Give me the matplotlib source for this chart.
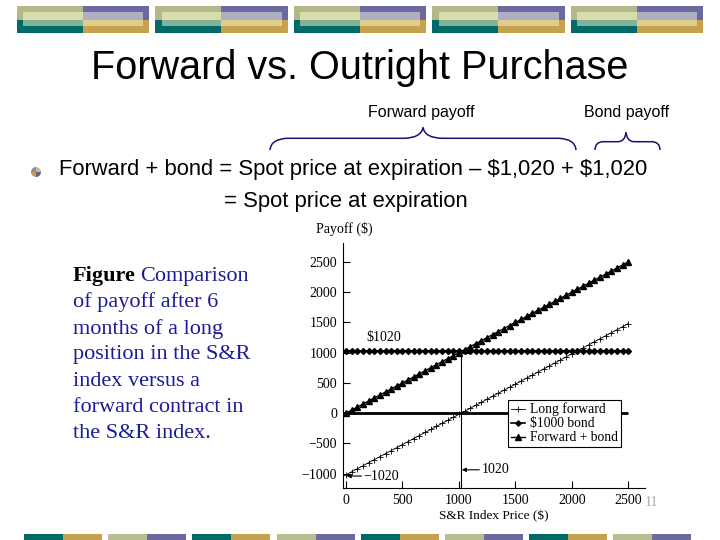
import matplotlib
matplotlib.use('Agg')
import matplotlib.pyplot as plt
from matplotlib.patches import Rectangle, Wedge, PathPatch
from matplotlib.path import Path

# ---------------- data ----------------
index_price = [0, 50, 100, 150, 200, 250, 300, 350, 400, 450, 500, 550, 600, 650, 700,
               750, 800, 850, 900, 950, 1000, 1050, 1100, 1150, 1200, 1250, 1300, 1350,
               1400, 1450, 1500, 1550, 1600, 1650, 1700, 1750, 1800, 1850, 1900, 1950,
               2000, 2050, 2100, 2150, 2200, 2250, 2300, 2350, 2400, 2450, 2500]
long_forward = [-1020, -970, -920, -870, -820, -770, -720, -670, -620, -570, -520, -470,
                -420, -370, -320, -270, -220, -170, -120, -70, -20, 30, 80, 130, 180, 230,
                280, 330, 380, 430, 480, 530, 580, 630, 680, 730, 780, 830, 880, 930, 980,
                1030, 1080, 1130, 1180, 1230, 1280, 1330, 1380, 1430, 1480]
bond_payoff = [1020, 1020, 1020, 1020, 1020, 1020, 1020, 1020, 1020, 1020, 1020, 1020,
               1020, 1020, 1020, 1020, 1020, 1020, 1020, 1020, 1020, 1020, 1020, 1020,
               1020, 1020, 1020, 1020, 1020, 1020, 1020, 1020, 1020, 1020, 1020, 1020,
               1020, 1020, 1020, 1020, 1020, 1020, 1020, 1020, 1020, 1020, 1020, 1020,
               1020, 1020, 1020]
forward_plus_bond = [0, 50, 100, 150, 200, 250, 300, 350, 400, 450, 500, 550, 600, 650, 700,
                     750, 800, 850, 900, 950, 1000, 1050, 1100, 1150, 1200, 1250, 1300, 1350,
                     1400, 1450, 1500, 1550, 1600, 1650, 1700, 1750, 1800, 1850, 1900, 1950,
                     2000, 2050, 2100, 2150, 2200, 2250, 2300, 2350, 2400, 2450, 2500]
series_labels = ["Long forward", "\\$1000 bond", "Forward + bond"]
x_ticks = [0, 500, 1000, 1500, 2000, 2500]
y_ticks = [-1000, -500, 0, 500, 1000, 1500, 2000, 2500]
forward_price = 1020
zero_line_end = 2500

title = "Forward vs. Outright Purchase"
bullet_line1 = "Forward + bond = Spot price at expiration \u2013 \\$1,020 + \\$1,020"
bullet_line2 = "= Spot price at expiration"
caption_lines = ["of payoff after 6", "months of a long", "position in the S&R",
                 "index versus a", "forward contract in", "the S&R index."]

SERIF = ['Liberation Serif', 'DejaVu Serif']
SANS = ['Liberation Sans', 'DejaVu Sans']

fig = plt.figure(figsize=(7.2, 5.4), dpi=100)
fig.patch.set_facecolor('white')

# ---------------- slide overlay (pixel coordinates) ----------------
bg = fig.add_axes([0, 0, 1, 1], zorder=0)
bg.set_xlim(0, 720)
bg.set_ylim(540, 0)
bg.axis('off')

# top decorative blocks
for x0 in [16.7, 155.2, 293.7, 432.2, 570.7]:
    w = 132.3
    hw = 66.15
    bg.add_patch(Rectangle((x0, 6), hw, 14, color='#b4b78a', lw=0))
    bg.add_patch(Rectangle((x0 + hw, 6), w - hw, 14, color='#6a6aa0', lw=0))
    bg.add_patch(Rectangle((x0, 20), hw, 12.7, color='#006b66', lw=0))
    bg.add_patch(Rectangle((x0 + hw, 20), w - hw, 12.7, color='#c6a24e', lw=0))
    bg.add_patch(Rectangle((x0 + 6.6, 12.3), hw - 6.6, 7.7, color='#dadcaa', lw=0))
    bg.add_patch(Rectangle((x0 + hw, 12.3), 126.6 - hw, 7.7, color='#aeaec2', lw=0))
    bg.add_patch(Rectangle((x0 + 6.6, 20), hw - 6.6, 6, color='#82b399', lw=0))
    bg.add_patch(Rectangle((x0 + hw, 20), 126.6 - hw, 6, color='#dfcd8f', lw=0))

# bottom decorative blocks
for i in range(8):
    x0 = 24 + 84.2 * i
    if i % 2 == 0:
        c1, c2 = '#006b66', '#c6a24e'
    else:
        c1, c2 = '#b8bd92', '#6a6aa0'
    bg.add_patch(Rectangle((x0, 534), 39, 6, color=c1, lw=0))
    bg.add_patch(Rectangle((x0 + 39, 534), 39, 6, color=c2, lw=0))

# title
bg.text(360, 68, title, family=SANS, fontsize=28.5, ha='center', va='center', color='black')

# brace labels
bg.text(421, 113, "Forward payoff", family=SANS, fontsize=11.5, ha='center', va='center')
bg.text(627, 113, "Bond payoff", family=SANS, fontsize=11.5, ha='center', va='center')

brace_color = '#14146e'
fwd_brace = Path(
    [(270, 150), (271, 139), (287, 138.3), (404, 138.3), (421, 138), (423, 127.5),
     (425, 138), (442, 138.3), (559, 138.3), (575, 139), (576, 150)],
    [Path.MOVETO, Path.CURVE3, Path.CURVE3, Path.LINETO, Path.CURVE3, Path.CURVE3,
     Path.CURVE3, Path.CURVE3, Path.LINETO, Path.CURVE3, Path.CURVE3])
bg.add_patch(PathPatch(fwd_brace, fill=False, ec=brace_color, lw=1.1))
bond_brace = Path(
    [(595, 150), (595, 142), (603, 141.7), (618, 141.7), (625, 141.5), (626, 132.5),
     (627, 141.5), (634, 141.7), (652, 141.7), (660, 142), (660, 150)],
    [Path.MOVETO, Path.CURVE3, Path.CURVE3, Path.LINETO, Path.CURVE3, Path.CURVE3,
     Path.CURVE3, Path.CURVE3, Path.LINETO, Path.CURVE3, Path.CURVE3])
bg.add_patch(PathPatch(bond_brace, fill=False, ec=brace_color, lw=1.1))

# bullet sphere
bc = (36, 172)
bg.add_patch(Wedge(bc, 5, 180, 270, color='#8090b0', lw=0))
bg.add_patch(Wedge(bc, 5, 270, 360, color='#c8b89a', lw=0))
bg.add_patch(Wedge(bc, 5, 0, 90, color='#5a6688', lw=0))
bg.add_patch(Wedge(bc, 5, 90, 180, color='#c89a50', lw=0))

bg.text(59, 170, bullet_line1, family=SANS, fontsize=15.85, ha='left', va='center')
bg.text(224, 201, bullet_line2, family=SANS, fontsize=15.85, ha='left', va='center')

# caption
cap_color = '#1c1c96'
fig_word = bg.text(73, 276, "Figure", family=SERIF, fontsize=16, fontweight='bold',
                   ha='left', va='center', color='black')
fig.canvas.draw()
ext = fig_word.get_window_extent()
inv = bg.transData.inverted()
x_end = inv.transform((ext.x1, ext.y0))[0]
bg.text(x_end + 4, 276, "Comparison", family=SERIF, fontsize=16, ha='left', va='center',
        color=cap_color)
for k, line in enumerate(caption_lines):
    bg.text(73, 302.3 + 26.3 * k, line, family=SERIF, fontsize=16, ha='left', va='center',
            color=cap_color)

# ---------------- chart ----------------
left_px, right_px, top_px, bottom_px = 343.3, 645.0, 243.0, 487.5
ax = fig.add_axes([left_px / 720, (540 - bottom_px) / 540,
                   (right_px - left_px) / 720, (bottom_px - top_px) / 540], zorder=2)
ax.set_facecolor('none')
ax.set_xlim(-24, 2649)
ax.set_ylim(-1230, 2815)
for s in ['top', 'right']:
    ax.spines[s].set_visible(False)
for s in ['left', 'bottom']:
    ax.spines[s].set_linewidth(0.8)

ax.hlines(0, -24, zero_line_end, color='black', lw=2.0, zorder=1)
ax.vlines(forward_price, -1230, forward_price, color='black', lw=0.8, zorder=1)

ax.plot(index_price, long_forward, color='black', lw=0.6, marker='+', ms=5, mew=0.6,
        label=series_labels[0], zorder=3)
ax.plot(index_price, bond_payoff, color='black', lw=1.2, marker='D', ms=3.0,
        label=series_labels[1], zorder=3)
ax.plot(index_price, forward_plus_bond, color='black', lw=1.0, marker='^', ms=4.3,
        label=series_labels[2], zorder=3)

ax.set_xticks(x_ticks)
ax.set_yticks(y_ticks)
ax.tick_params(direction='in', length=5, width=0.8, labelsize=10, pad=4.5)
for lab in ax.get_xticklabels() + ax.get_yticklabels():
    lab.set_family(SERIF)

ax.text(337, 1256, "\\$1020", family=SERIF, fontsize=10, ha='center', va='center')
ax.annotate("", xy=(forward_price + 6, -937), xytext=(1181, -937),
            arrowprops=dict(arrowstyle='-|>', color='black', lw=0.8, mutation_scale=6,
                            shrinkA=0, shrinkB=0))
ax.text(1204, -937, "1020", family=SERIF, fontsize=10, ha='left', va='center')
ax.annotate("", xy=(6, -1040), xytext=(138, -1040),
            arrowprops=dict(arrowstyle='-|>', color='black', lw=0.8, mutation_scale=6,
                            shrinkA=0, shrinkB=0))
ax.text(150, -1040, "\u22121020", family=SERIF, fontsize=10, ha='left', va='center')

leg = ax.legend(loc='upper left', bbox_to_anchor=(508 / 720, (540 - 399.5) / 540),
                bbox_transform=fig.transFigure, prop={'family': SERIF, 'size': 9.8},
                frameon=True, fancybox=False, framealpha=1, edgecolor='black',
                handlelength=1.0, handletextpad=0.4, labelspacing=0.08, borderpad=0.22,
                borderaxespad=0, markerscale=0.9)
leg.get_frame().set_linewidth(0.8)
leg.set_zorder(5)

fig.text(316 / 720, (540 - 229) / 540, "Payoff (\\$)", family=SERIF, fontsize=10,
         ha='left', va='center')
fig.text(494 / 720, (540 - 516) / 540, "S&R Index Price (\\$)", family=SERIF, fontsize=9.5,
         ha='center', va='center')
fig.text(651 / 720, (540 - 503) / 540, "11", family=SERIF, fontsize=10, ha='center',
         va='center', color='#a8a8a8')

fig.savefig('out.png', dpi=100)
